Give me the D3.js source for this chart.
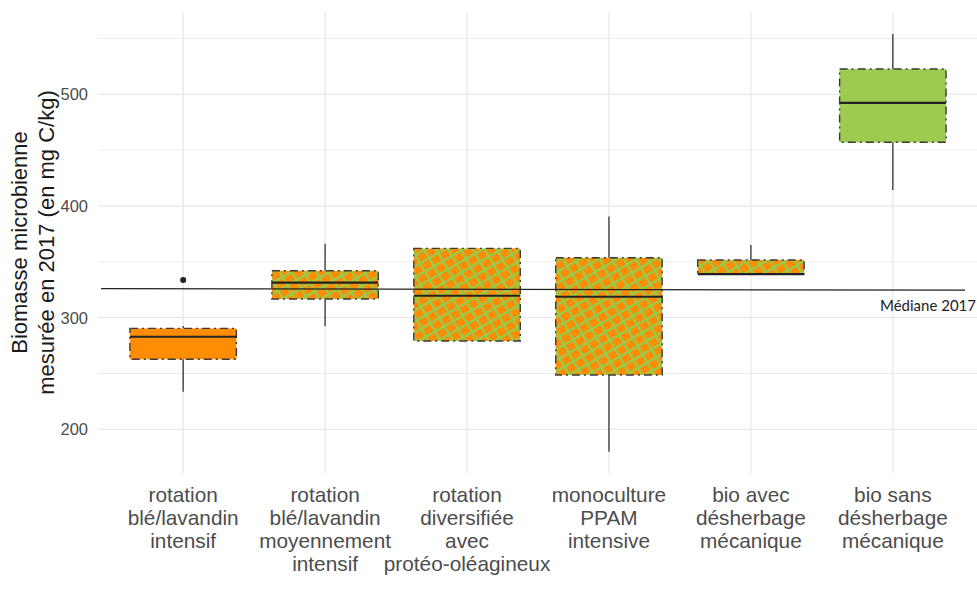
<!DOCTYPE html>
<html>
<head>
<meta charset="utf-8">
<script src="https://cdn.jsdelivr.net/npm/d3@7"></script>
<style>
  html, body { margin: 0; padding: 0; background: #fff; }
  svg { display: block; }
</style>
</head>
<body>
<svg id="chart" width="977" height="591"></svg>
<script>
// Systèmes de culture (axe x)
const categories = [
  ["rotation", "blé/lavandin", "intensif"],
  ["rotation", "blé/lavandin", "moyennement", "intensif"],
  ["rotation", "diversifiée", "avec", "protéo-oléagineux"],
  ["monoculture", "PPAM", "intensive"],
  ["bio avec", "désherbage", "mécanique"],
  ["bio sans", "désherbage", "mécanique"]
];

// Statistiques des boîtes (mg C/kg)
const whiskerLow  = [233.7, 292.2, 279.1, 180.0, 339.0, 414.4];
const q1          = [262.7, 316.7, 279.1, 248.6, 339.0, 457.0];
const median      = [282.9, 331.4, 319.6, 318.7, 339.0, 492.4];
const q3          = [290.4, 342.0, 362.0, 353.6, 351.6, 522.6];
const whiskerHigh = [292.6, 366.2, 362.0, 390.5, 365.0, 553.9];

// Valeurs atypiques : [indice de catégorie, valeur]
const outliers = [[0, 333.7]];

// Médiane globale 2017 (début et fin du trait)
const medianLine = [326.0, 324.6];
const medianLabel = "Médiane 2017";

const yTicks = [200, 300, 400, 500];
const yMinor = [250, 350, 450, 550];
const yTitle = ["Biomasse microbienne", "mesurée en 2017 (en mg C/kg)"];

// ---- dessin ----
const ORANGE = "#FF8C05";
const GREEN = "#9CCB50";
const HATCH_GREEN = "#94CC4C";
const fillOf = i => i === 0 ? ORANGE : (i === 5 ? GREEN : "url(#hatch)");

const svg = d3.select("#chart");
const panel = { left: 98, right: 978, top: 12, bottom: 473 };

const x = d3.scaleLinear().domain([0.4, 6.6]).range([panel.left, panel.right]);
const y = d3.scaleLinear().domain([200, 500]).range([429.3, 94.3]);

// motif quadrillé orange / vert
const PW = 10.5, PH = 9.5, LW = 2.3;
const defs = svg.append("defs");
const pat = defs.append("pattern")
  .attr("id", "hatch")
  .attr("patternUnits", "userSpaceOnUse")
  .attr("width", PW).attr("height", PH)
  .attr("patternTransform", "rotate(-30)");
pat.append("rect").attr("width", PW).attr("height", PH).attr("fill", ORANGE);
pat.append("rect").attr("width", PW).attr("height", LW).attr("fill", HATCH_GREEN);
pat.append("rect").attr("width", LW).attr("height", PH).attr("fill", HATCH_GREEN);

// grille
const grid = svg.append("g");
grid.selectAll("line.minor").data(yMinor).join("line")
  .attr("x1", panel.left).attr("x2", panel.right)
  .attr("y1", d => y(d)).attr("y2", d => y(d))
  .attr("stroke", "#EDEDED").attr("stroke-width", 1);
grid.selectAll("line.major").data(yTicks).join("line")
  .attr("x1", panel.left).attr("x2", panel.right)
  .attr("y1", d => y(d)).attr("y2", d => y(d))
  .attr("stroke", "#E8E8E8").attr("stroke-width", 1.3);
grid.selectAll("line.vert").data(categories).join("line")
  .attr("x1", (d, i) => x(i + 1)).attr("x2", (d, i) => x(i + 1))
  .attr("y1", panel.top).attr("y2", panel.bottom)
  .attr("stroke", "#E8E8E8").attr("stroke-width", 1.3);

// axe y : étiquettes
svg.append("g").selectAll("text").data(yTicks).join("text")
  .attr("x", 88).attr("y", d => y(d) + 6)
  .attr("text-anchor", "end")
  .attr("font-family", "Liberation Sans, Arial, sans-serif")
  .attr("font-size", 16.5).attr("fill", "#4D4D4D")
  .text(d => d);

// titre de l'axe y
const yt = svg.append("text")
  .attr("transform", "translate(0,242.5) rotate(-90)")
  .attr("text-anchor", "middle")
  .attr("font-family", "Liberation Sans, Arial, sans-serif")
  .attr("font-size", 22).attr("fill", "#1A1A1A");
yt.selectAll("tspan").data(yTitle).join("tspan")
  .attr("x", 0).attr("y", (d, i) => 27 + i * 27)
  .text(d => d);

// étiquettes des catégories
const xl = svg.append("g").selectAll("text").data(categories).join("text")
  .attr("text-anchor", "middle")
  .attr("font-family", "Liberation Sans, Arial, sans-serif")
  .attr("font-size", 20.8).attr("fill", "#4D4D4D");
xl.selectAll("tspan").data((d, i) => d.map(t => ({ t, i }))).join("tspan")
  .attr("x", d => x(d.i + 1))
  .attr("y", (d, j) => 501.5 + j * 23.3)
  .text(d => d.t);

// boîtes à moustaches
const boxW = x(1.375) - x(1);
const boxes = svg.append("g").selectAll("g").data(categories).join("g");

boxes.append("line")
  .attr("x1", (d, i) => x(i + 1)).attr("x2", (d, i) => x(i + 1))
  .attr("y1", (d, i) => y(q3[i])).attr("y2", (d, i) => y(whiskerHigh[i]))
  .attr("stroke", "#333").attr("stroke-width", 1.3);
boxes.append("line")
  .attr("x1", (d, i) => x(i + 1)).attr("x2", (d, i) => x(i + 1))
  .attr("y1", (d, i) => y(q1[i])).attr("y2", (d, i) => y(whiskerLow[i]))
  .attr("stroke", "#333").attr("stroke-width", 1.3);

boxes.append("rect")
  .attr("x", (d, i) => x(i + 1) - boxW)
  .attr("width", 2 * boxW)
  .attr("y", (d, i) => y(q3[i]))
  .attr("height", (d, i) => y(q1[i]) - y(q3[i]))
  .attr("fill", (d, i) => fillOf(i))
  .attr("stroke", "#3A3A3A").attr("stroke-width", 1.4)
  .attr("stroke-dasharray", "8,4,2,4");

boxes.append("line")
  .attr("x1", (d, i) => x(i + 1) - boxW).attr("x2", (d, i) => x(i + 1) + boxW)
  .attr("y1", (d, i) => y(median[i])).attr("y2", (d, i) => y(median[i]))
  .attr("stroke", "#222").attr("stroke-width", 2.2);

// valeurs atypiques
svg.append("g").selectAll("circle").data(outliers).join("circle")
  .attr("cx", d => x(d[0] + 1)).attr("cy", d => y(d[1]))
  .attr("r", 3).attr("fill", "#222");

// trait de la médiane 2017
svg.append("line")
  .attr("x1", 101).attr("x2", 965)
  .attr("y1", y(medianLine[0])).attr("y2", y(medianLine[1]))
  .attr("stroke", "#222").attr("stroke-width", 1.3);
svg.append("text")
  .attr("x", 880).attr("y", 311)
  .attr("font-family", "Lato, Open Sans, sans-serif")
  .attr("font-size", 15).attr("fill", "#222")
  .text(medianLabel);
</script>
</body>
</html>
